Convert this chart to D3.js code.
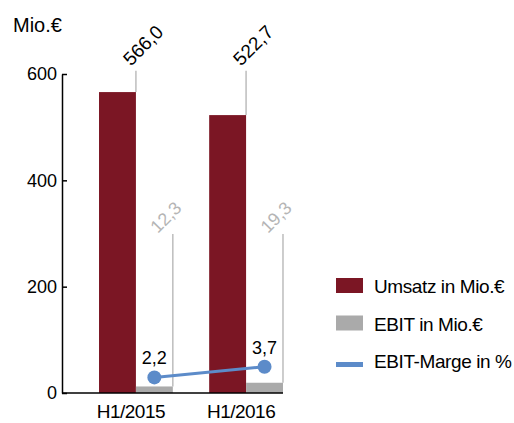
<!DOCTYPE html>
<html>
<head>
<meta charset="utf-8">
<script src="https://cdn.jsdelivr.net/npm/d3@7"></script>
<style>
body { margin: 0; background: #fff; }
text { font-family: "Liberation Sans", Arial, sans-serif; }
</style>
</head>
<body>
<div id="chart"></div>
<script>
// data
var categories = ["H1/2015", "H1/2016"]
var umsatz = [566.0, 522.7]
var ebit = [12.3, 19.3]
var marge = [2.2, 3.7]
var yTicks = [0, 200, 400, 600]
var legendLabels = ["Umsatz in Mio.€", "EBIT in Mio.€", "EBIT-Marge in %"]

var w = 514, h = 423
var fmt = function(v) { return d3.format(".1f")(v).replace(".", ",") }

var colUmsatz = "#7b1624", colEbit = "#aaaaaa", colMarge = "#5c8bc9", colLeader = "#bdbdbd"

var svg = d3.select("#chart")
	.append("svg")
	.attr("width", w)
	.attr("height", h)

// scales
var y = d3.scaleLinear().domain([0, 600]).range([393, 74])
var y2 = d3.scaleLinear().domain([0, 45]).range([393, 74])

var x = d3.scaleBand()
	.domain(categories)
	.range([62, 320])
	.paddingInner(0.33)
	.paddingOuter(0.336)

var xs = d3.scaleBand()
	.domain(["umsatz", "ebit"])
	.range([0, x.bandwidth()])

// y axis
var yAxis = svg.append("g")
	.attr("transform", "translate(62,0)")
	.call(d3.axisLeft(y).tickValues(yTicks).tickSizeInner(-5).tickSizeOuter(0).tickPadding(5))
yAxis.select(".domain").attr("stroke-width", 1.5)
yAxis.selectAll(".tick line").attr("stroke-width", 1.5)
yAxis.selectAll("text").attr("font-size", 18).attr("fill", "#000")

svg.append("text")
	.attr("x", 13).attr("y", 32)
	.attr("font-size", 20)
	.text("Mio.€")

// leader lines
var groups = svg.selectAll(".grp")
	.data(categories)
	.enter().append("g")
	.attr("class", "grp")
	.attr("transform", function(d) { return "translate(" + x(d) + ",0)" })

groups.append("line")
	.attr("x1", xs("umsatz") + xs.bandwidth()).attr("x2", xs("umsatz") + xs.bandwidth())
	.attr("y1", y(606)).attr("y2", function(d, i) { return y(umsatz[i]) })
	.attr("stroke", colLeader).attr("stroke-width", 1.5)

groups.append("line")
	.attr("x1", xs("ebit") + xs.bandwidth()).attr("x2", xs("ebit") + xs.bandwidth())
	.attr("y1", y(299)).attr("y2", function(d, i) { return y(ebit[i]) })
	.attr("stroke", colLeader).attr("stroke-width", 1.5)

// bars
groups.append("rect")
	.attr("x", xs("umsatz"))
	.attr("width", xs.bandwidth())
	.attr("y", function(d, i) { return y(umsatz[i]) })
	.attr("height", function(d, i) { return y(0) - y(umsatz[i]) })
	.attr("fill", colUmsatz)

groups.append("rect")
	.attr("x", xs("ebit"))
	.attr("width", xs.bandwidth())
	.attr("y", function(d, i) { return y(ebit[i]) })
	.attr("height", function(d, i) { return y(0) - y(ebit[i]) })
	.attr("fill", colEbit)

// rotated value labels
groups.append("text")
	.attr("transform", function(d, i) {
		return "translate(" + (xs("umsatz") + xs.bandwidth() - 5) + "," + (y(606) - 4) + ") rotate(-45)"
	})
	.attr("font-size", 19)
	.attr("fill", "#000")
	.text(function(d, i) { return fmt(umsatz[i]) })

groups.append("text")
	.attr("transform", function(d, i) {
		return "translate(" + (xs("ebit") + xs.bandwidth() - 15) + "," + y(299) + ") rotate(-45)"
	})
	.attr("font-size", 18)
	.attr("fill", "#b5b5b5")
	.text(function(d, i) { return fmt(ebit[i]) })

// x axis line
svg.append("line")
	.attr("x1", 62).attr("x2", x(categories[1]) + x.bandwidth())
	.attr("y1", y(0)).attr("y2", y(0))
	.attr("stroke", "#000").attr("stroke-width", 1.5)

svg.selectAll(".xlab")
	.data(categories)
	.enter().append("text")
	.attr("class", "xlab")
	.attr("x", function(d) { return x(d) + x.bandwidth() / 2 - 5 })
	.attr("y", 418)
	.attr("text-anchor", "middle")
	.attr("font-size", 19)
	.attr("letter-spacing", -0.5)
	.text(function(d) { return d })

// margin line
var mx = function(i) { return x(categories[i]) + xs("ebit") + xs.bandwidth() / 2 }
svg.append("path")
	.datum(marge)
	.attr("d", d3.line().x(function(d, i) { return mx(i) }).y(function(d) { return y2(d) }))
	.attr("fill", "none")
	.attr("stroke", colMarge)
	.attr("stroke-width", 3)

svg.selectAll(".pt")
	.data(marge)
	.enter().append("circle")
	.attr("cx", function(d, i) { return mx(i) })
	.attr("cy", function(d) { return y2(d) })
	.attr("r", 7)
	.attr("fill", colMarge)

svg.selectAll(".mlab")
	.data(marge)
	.enter().append("text")
	.attr("x", function(d, i) { return mx(i) })
	.attr("y", function(d) { return y2(d) - 13 })
	.attr("text-anchor", "middle")
	.attr("font-size", 18)
	.text(function(d) { return d3.format(".1f")(d).replace(".", ",") })

// legend
var legend = svg.append("g").attr("transform", "translate(336,0)")
var legRows = legend.selectAll("g")
	.data(legendLabels)
	.enter().append("g")
	.attr("transform", function(d, i) { return "translate(0," + (293 + i * 37.5) + ")" })

legRows.each(function(d, i) {
	var g = d3.select(this)
	if (i < 2) {
		g.append("rect").attr("x", 0).attr("y", -15).attr("width", 27).attr("height", 15)
			.attr("fill", i == 0 ? colUmsatz : colEbit)
	} else {
		g.append("rect").attr("x", 0).attr("y", -6).attr("width", 27).attr("height", 5)
			.attr("fill", colMarge)
	}
	g.append("text").attr("x", 38).attr("y", 0).attr("font-size", 19)
		.attr("letter-spacing", -0.4).text(d)
})
</script>
</body>
</html>
